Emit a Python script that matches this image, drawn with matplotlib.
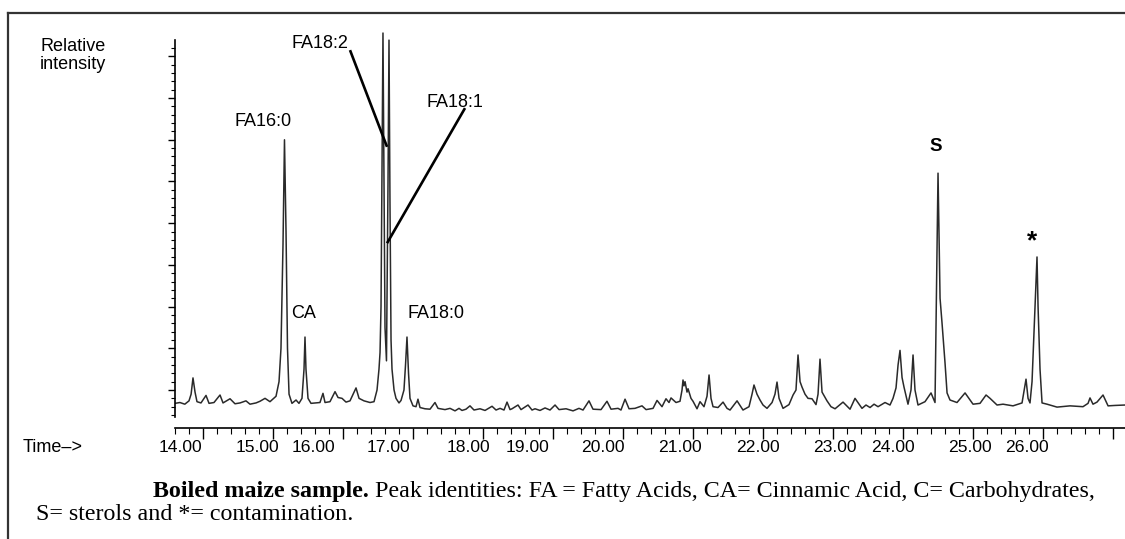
import matplotlib
matplotlib.use("Agg")
import matplotlib.pyplot as plt
from matplotlib.lines import Line2D
from matplotlib.ticker import FixedLocator, MultipleLocator
import matplotlib.transforms as mtransforms

# chromatogram trace: retention time (min), relative intensity
time_min = [
    13.60, 13.67, 13.74, 13.80, 13.83, 13.857, 13.886, 13.914, 13.971, 14.043,
    14.086, 14.157, 14.243, 14.286, 14.386, 14.457, 14.529, 14.614, 14.671, 14.757,
    14.814, 14.886, 14.957, 15.043, 15.086, 15.114, 15.143, 15.164, 15.186, 15.207,
    15.229, 15.271, 15.329, 15.371, 15.414, 15.443, 15.457, 15.471, 15.500, 15.543,
    15.614, 15.671, 15.714, 15.743, 15.814, 15.886, 15.929, 15.986, 16.043, 16.100,
    16.186, 16.229, 16.300, 16.386, 16.443, 16.486, 16.514, 16.529, 16.543, 16.557,
    16.571, 16.586, 16.600, 16.621, 16.643, 16.657, 16.671, 16.686, 16.700, 16.729,
    16.757, 16.800, 16.829, 16.871, 16.893, 16.914, 16.936, 16.957, 17.000, 17.043,
    17.071, 17.100, 17.171, 17.243, 17.314, 17.357, 17.457, 17.529, 17.600, 17.657,
    17.700, 17.757, 17.814, 17.871, 17.957, 18.029, 18.129, 18.186, 18.243, 18.300,
    18.343, 18.386, 18.414, 18.500, 18.543, 18.643, 18.700, 18.743, 18.814, 18.886,
    18.957, 19.029, 19.086, 19.186, 19.286, 19.371, 19.429, 19.514, 19.571, 19.686,
    19.771, 19.829, 19.929, 19.971, 20.029, 20.086, 20.171, 20.271, 20.329, 20.429,
    20.486, 20.557, 20.614, 20.657, 20.686, 20.757, 20.814, 20.843, 20.857, 20.871,
    20.886, 20.914, 20.929, 20.971, 21.000, 21.057, 21.100, 21.157, 21.200, 21.229,
    21.257, 21.286, 21.357, 21.429, 21.486, 21.529, 21.629, 21.714, 21.800, 21.843,
    21.871, 21.914, 21.957, 22.000, 22.057, 22.129, 22.171, 22.200, 22.229, 22.286,
    22.371, 22.429, 22.471, 22.500, 22.529, 22.557, 22.600, 22.643, 22.700, 22.757,
    22.786, 22.814, 22.843, 22.914, 22.971, 23.029, 23.143, 23.243, 23.314, 23.414,
    23.471, 23.529, 23.586, 23.643, 23.743, 23.814, 23.857, 23.900, 23.929, 23.957,
    23.986, 24.014, 24.071, 24.114, 24.143, 24.171, 24.214, 24.314, 24.400, 24.457,
    24.479, 24.500, 24.529, 24.557, 24.600, 24.629, 24.671, 24.771, 24.886, 25.000,
    25.100, 25.186, 25.243, 25.343, 25.429, 25.571, 25.700, 25.757, 25.786, 25.814,
    25.843, 25.871, 25.914, 25.929, 25.957, 25.986, 26.057, 26.200, 26.386, 26.571,
    26.643, 26.671, 26.714, 26.771, 26.857, 26.929, 27.029, 27.171,
]
intensity = [
    6.8, 7.0, 6.6, 7.4, 9.0, 12.9, 9.5, 7.2, 6.9, 8.7,
    6.8, 7.0, 8.8, 6.9, 7.9, 6.7, 6.9, 7.4, 6.6, 6.9,
    7.3, 8.0, 7.2, 8.5, 12.0, 20.0, 45.0, 70.0, 48.0, 20.0,
    9.0, 6.8, 7.6, 6.8, 8.0, 15.0, 22.7, 15.0, 8.0, 6.8,
    6.9, 7.0, 9.2, 7.0, 7.2, 9.6, 8.2, 8.0, 7.1, 7.4,
    10.5, 8.0, 7.4, 7.0, 7.2, 10.0, 15.0, 19.0, 30.0, 62.0,
    95.6, 60.0, 25.0, 17.0, 60.0, 93.9, 55.0, 22.0, 15.0, 10.0,
    8.0, 6.9, 7.5, 10.0, 16.0, 22.7, 14.0, 8.0, 6.2, 6.0,
    7.8, 5.8, 5.5, 5.4, 7.0, 5.6, 5.3, 5.6, 5.0, 5.6,
    5.1, 5.4, 6.2, 5.2, 5.5, 5.1, 6.1, 5.2, 5.6, 5.2,
    7.1, 5.3, 5.5, 6.4, 5.3, 6.4, 5.2, 5.5, 5.1, 5.7,
    5.2, 6.4, 5.3, 5.5, 5.0, 5.6, 5.2, 7.4, 5.4, 5.3,
    7.3, 5.4, 5.6, 5.2, 7.8, 5.5, 5.6, 6.2, 5.3, 5.6,
    7.5, 6.0, 7.9, 7.0, 8.1, 7.0, 7.3, 10.0, 12.4, 11.0,
    12.0, 9.5, 10.3, 8.0, 7.3, 5.5, 7.2, 6.0, 8.5, 13.6,
    8.0, 6.0, 5.8, 7.1, 5.6, 5.2, 7.4, 5.2, 6.0, 9.0,
    11.2, 9.0, 7.6, 6.4, 5.6, 7.0, 9.0, 11.9, 8.0, 5.6,
    6.5, 8.8, 10.0, 18.4, 12.0, 10.7, 9.0, 8.0, 7.9, 6.5,
    9.0, 17.4, 9.5, 7.4, 6.0, 5.5, 7.1, 5.4, 8.0, 5.6,
    6.4, 5.8, 6.6, 6.0, 7.0, 6.4, 8.0, 10.5, 16.0, 19.5,
    13.0, 10.7, 6.6, 10.0, 18.4, 10.0, 6.4, 7.2, 9.3, 7.0,
    35.0, 62.0, 32.0, 26.1, 16.5, 9.3, 7.6, 7.0, 9.3, 6.6,
    6.8, 8.8, 8.0, 6.4, 6.6, 6.2, 6.9, 12.6, 8.0, 6.9,
    12.0, 23.7, 41.9, 30.0, 15.0, 6.9, 6.6, 5.9, 6.2, 6.0,
    6.8, 8.1, 6.6, 7.1, 8.8, 6.2, 6.3, 6.4,
]

# printed time labels (they sit a little left of the real minute ticks)
tick_labels = ["14.00", "15.00", "16.00", "17.00", "18.00", "19.00", "20.00",
               "21.00", "22.00", "23.00", "24.00", "25.00", "26.00"]
tick_label_pos = [13.671, 14.771, 15.571, 16.643, 17.786, 18.629, 19.714,
                  20.814, 21.929, 23.029, 23.857, 24.957, 25.771]
minute_ticks = list(range(14, 28))

# peak labels: text, x, y
peak_names = ["FA16:0", "FA18:2", "FA18:1", "CA", "FA18:0", "S", "*"]
peak_label_x = [14.857, 15.671, 17.600, 15.443, 17.329, 24.471, 25.843]
peak_label_y = [74.4, 93.2, 79.0, 28.4, 28.4, 68.3, 45.6]

sans = "Liberation Sans"
serif = "Liberation Serif"

fig = plt.figure(figsize=(11.25, 5.39), dpi=100)
ax = fig.add_axes([175 / 1125, 1 - 428 / 539, 950 / 1125, 415 / 539])

ax.plot(time_min, intensity, color="#2a2a2a", lw=1.1)
ax.set_xlim(13.60, 27.171)
ax.set_ylim(0.89, 100.4)

for side in ["top", "right"]:
    ax.spines[side].set_visible(False)
ax.spines["left"].set_bounds(3.5, 93.9)
ax.spines["left"].set_linewidth(1.2)
ax.spines["bottom"].set_linewidth(1.2)

ax.yaxis.set_major_locator(FixedLocator(range(10, 100, 10)))
ax.yaxis.set_minor_locator(FixedLocator([v for v in range(4, 94, 2) if v % 10]))
ax.tick_params(axis="y", which="major", direction="out", length=5, width=1.0, labelleft=False)
ax.tick_params(axis="y", which="minor", direction="out", length=3, width=0.8)

ax.xaxis.set_major_locator(FixedLocator(minute_ticks))
ax.xaxis.set_minor_locator(MultipleLocator(0.2))
ax.tick_params(axis="x", which="major", direction="out", length=8, width=1.0, labelbottom=False)
ax.tick_params(axis="x", which="minor", direction="out", length=4, width=0.8)

trans = mtransforms.blended_transform_factory(ax.transData, ax.transAxes)
for lab, pos in zip(tick_labels, tick_label_pos):
    ax.text(pos, -0.0458, lab, transform=trans, ha="center", va="center",
            fontsize=12.6, family=sans, clip_on=False)

for name, x, y in zip(peak_names, peak_label_x, peak_label_y):
    if name == "*":
        ax.text(x, y, name, ha="center", va="center", family=sans, fontsize=19, fontweight="bold")
    elif name == "S":
        ax.text(x, y, name, ha="center", va="center", family=sans, fontsize=13.5, fontweight="bold")
    else:
        ax.text(x, y, name, ha="center", va="center", family=sans, fontsize=13)

# leader lines to the two C18 unsaturated peaks
ax.plot([16.1, 16.629], [91.5, 68.3], color="black", lw=1.9, solid_capstyle="butt")
ax.plot([17.743, 16.629], [77.6, 45.2], color="black", lw=1.9, solid_capstyle="butt")

fig.text(40 / 1125, 1 - 38 / 539, "Relative\nintensity", ha="left", va="top",
         fontsize=13, family=sans, linespacing=1.1)
fig.text(23 / 1125, 1 - 447 / 539, "Time\u2013>", ha="left", va="center",
         fontsize=13, family=sans)

# caption: bold lead-in followed by plain text on the same line
t1 = fig.text(153 / 1125, 1 - 497 / 539, "Boiled maize sample.", ha="left", va="baseline",
              fontsize=17.3, family=serif, fontweight="bold")
ax.annotate(" Peak identities: FA = Fatty Acids, CA= Cinnamic Acid, C= Carbohydrates,",
            xy=(1, 0), xycoords=t1, ha="left", va="bottom", fontsize=17.3, family=serif,
            annotation_clip=False)
fig.text(36 / 1125, 1 - 520 / 539, "S= sterols and *= contamination.", ha="left",
         va="baseline", fontsize=17.3, family=serif)

# frame of the scanned figure
fig.add_artist(Line2D([8 / 1125, 1], [1 - 13 / 539, 1 - 13 / 539], transform=fig.transFigure,
                      color="#333333", lw=1.6))
fig.add_artist(Line2D([8 / 1125, 8 / 1125], [0, 1 - 13 / 539], transform=fig.transFigure,
                      color="#333333", lw=1.6))

fig.savefig("out.png", dpi=100)
